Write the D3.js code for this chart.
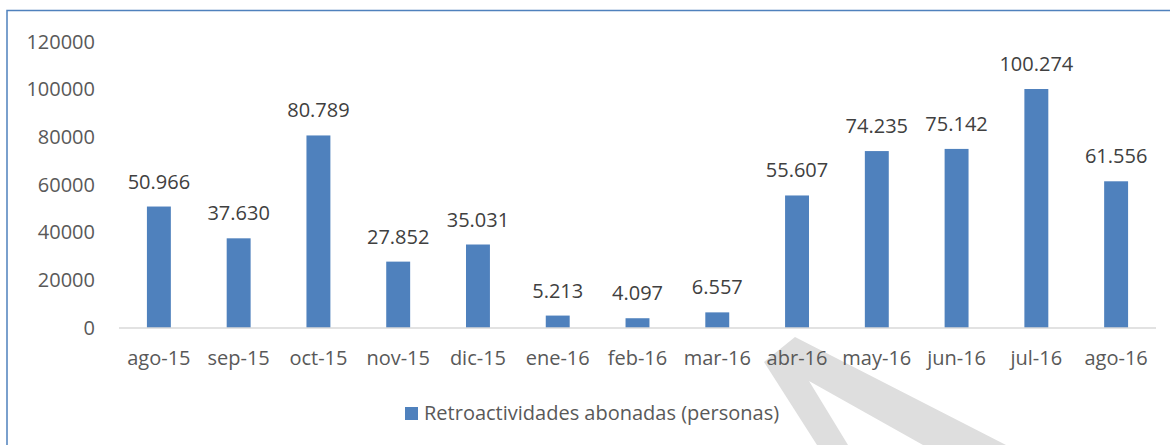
<!DOCTYPE html>
<html>
<head>
<meta charset="utf-8">
<script src="https://cdn.jsdelivr.net/npm/d3@7"></script>
<style>
  body { margin: 0; background: #fff; }
  text { font-family: "Open Sans", "Noto Sans", sans-serif; }
</style>
</head>
<body>
<div class="wrapper"></div>
<script>
// months shown on the x axis
var months = ["ago-15", "sep-15", "oct-15", "nov-15", "dic-15", "ene-16", "feb-16",
              "mar-16", "abr-16", "may-16", "jun-16", "jul-16", "ago-16"];
// retroactividades abonadas (personas)
var personas = [50966, 37630, 80789, 27852, 35031, 5213, 4097, 6557,
                55607, 74235, 75142, 100274, 61556];
var yTicks = [0, 20000, 40000, 60000, 80000, 100000, 120000];
var seriesName = "Retroactividades abonadas (personas)";

var width = 1170,
    height = 445;

var barColor = "#4f81bd";

// spanish number format, dot as thousands separator
var es = d3.formatLocale({ decimal: ",", thousands: ".", grouping: [3], currency: ["", "€"] });
var fmt = es.format(",d");

var svg = d3.select(".wrapper").append("svg")
    .attr("width", width)
    .attr("height", height);

var x = d3.scaleBand()
    .domain(months)
    .range([119, 1156])
    .paddingInner(0.7)
    .paddingOuter(0.35);

var y = d3.scaleLinear()
    .domain([0, 120000])
    .range([328, 42]);

// grey watermark stroke in the lower part of the picture
svg.append("path")
    .attr("d", "M764,362 L795,337 L1006,445 L923,445 L809,381 L848,445 L817,445 Z")
    .attr("fill", "#dedede");

// frame (only top and left edges are in view)
svg.append("path")
    .attr("d", "M7," + height + " L7,10.5 L" + width + ",10.5")
    .attr("fill", "none")
    .attr("stroke", "#4f81bd")
    .attr("stroke-width", 1.5);

// y axis labels
svg.append("g")
    .selectAll("text")
    .data(yTicks)
  .enter().append("text")
    .attr("x", 95)
    .attr("y", function(d) { return y(d); })
    .attr("dy", "0.33em")
    .attr("text-anchor", "end")
    .attr("fill", "#595959")
    .style("font-size", "20px")
    .text(function(d) { return d; });

// bars
svg.append("g")
    .selectAll("rect")
    .data(personas)
  .enter().append("rect")
    .attr("x", function(d, i) { return x(months[i]); })
    .attr("y", function(d) { return y(d); })
    .attr("width", x.bandwidth())
    .attr("height", function(d) { return y(0) - y(d); })
    .attr("fill", barColor);

// baseline
svg.append("line")
    .attr("x1", x.range()[0])
    .attr("x2", x.range()[1])
    .attr("y1", y(0))
    .attr("y2", y(0))
    .attr("stroke", "#d9d9d9")
    .attr("stroke-width", 1.5);

// data labels
svg.append("g")
    .selectAll("text")
    .data(personas)
  .enter().append("text")
    .attr("x", function(d, i) { return x(months[i]) + x.bandwidth() / 2; })
    .attr("y", function(d) { return y(d) - 18; })
    .attr("text-anchor", "middle")
    .attr("fill", "#404040")
    .style("font-size", "20px")
    .text(function(d) { return fmt(d); });

// x axis labels
svg.append("g")
    .selectAll("text")
    .data(months)
  .enter().append("text")
    .attr("x", function(d) { return x(d) + x.bandwidth() / 2; })
    .attr("y", 365)
    .attr("text-anchor", "middle")
    .attr("fill", "#595959")
    .style("font-size", "20px")
    .text(function(d) { return d; });

// legend
var legend = svg.append("g");
legend.append("rect")
    .attr("x", 405)
    .attr("y", 407)
    .attr("width", 13)
    .attr("height", 13)
    .attr("fill", barColor);
legend.append("text")
    .attr("x", 424)
    .attr("y", 420)
    .attr("fill", "#595959")
    .style("font-size", "20px")
    .text(seriesName);
</script>
</body>
</html>
